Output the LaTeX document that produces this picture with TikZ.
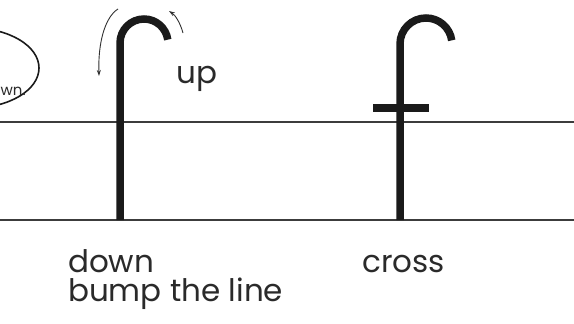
\documentclass[tikz,border=0pt]{standalone}
\usepackage{fontspec}
\setmainfont{Poppins}
\usetikzlibrary{arrows.meta}
\definecolor{ink}{HTML}{1A1A1A}
\definecolor{txt}{HTML}{2A2A2A}
\tikzset{
  guide/.style={draw=ink!85, line width=1.2pt},
  letter/.style={draw=ink, line width=7.5pt},
  hint/.style={draw=ink!90, line width=0.9pt, -{Stealth[length=6pt,width=4pt]}},
  word/.style={text=txt, font=\fontsize{31}{33}\selectfont, inner sep=0pt, anchor=base west},
}
\begin{document}
\begin{tikzpicture}[x=1pt,y=-1pt]
\useasboundingbox (0,0) rectangle (574,324);
\begin{scope}
\clip (0,0) rectangle (574,324);
% ellipse at left, cut off
\draw[draw=ink, line width=1.6pt] (-28,68) ellipse [x radius=67, y radius=40];
\end{scope}
\node[text=txt, font=\fontsize{15}{16}\selectfont, inner sep=0pt, anchor=base west] (ell) at (0.5,95) {wn.};
% guide lines
\coordinate (t0) at (0,122); \coordinate (t1) at (574,122);
\coordinate (b0) at (0,220); \coordinate (b1) at (574,220);
\draw[guide] (t0) -- (t1);
\draw[guide] (b0) -- (b1);
% left f stroke
\coordinate (s1) at (120,220);
\draw[letter] (s1) -- (120,43) arc [start angle=180, end angle=352, radius=24];
% arrows
\coordinate (a1s) at (118,9);
\coordinate (a1e) at (99,76);
\draw[hint] (a1s) .. controls (104,18) and (98,45) .. (a1e);
\coordinate (a2s) at (183,33);
\coordinate (a2e) at (169,11);
\draw[hint] (a2s) .. controls (180,22) and (175,15) .. (a2e);
\node[word] (up) at (176,83) {up};
% right f
\coordinate (s2) at (400,220);
\draw[letter] (s2) -- (400,44) arc [start angle=180, end angle=352, radius=26];
\coordinate (c0) at (373,108); \coordinate (c1) at (429,108);
\draw[draw=ink, line width=8pt] (c0) -- (c1);
% labels
\node[word] (down) at (68,272) {down};
\node[word] (bump) at (68,301) {bump the line};
\node[word] (cross) at (362,272) {cross};
\end{tikzpicture}
\end{document}
